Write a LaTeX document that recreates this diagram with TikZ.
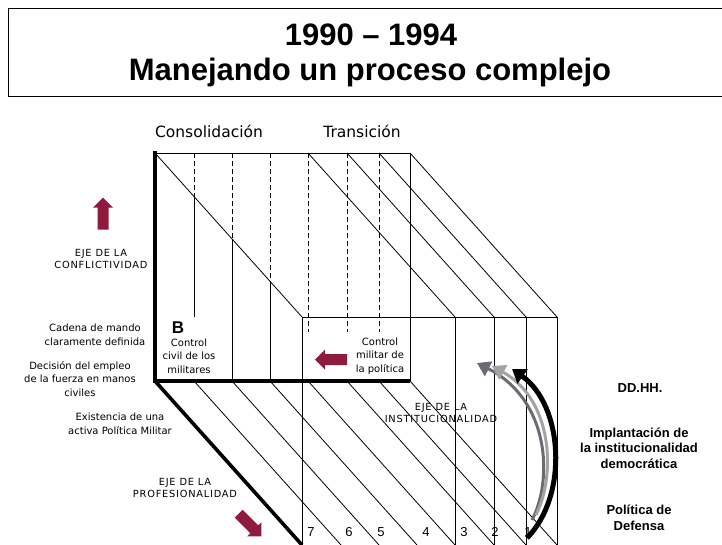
\documentclass[tikz,border=0pt]{standalone}
\usepackage{fontspec}
\setmainfont{Liberation Sans}
\newfontfamily\dejavu{DejaVu Sans}
\newfontfamily\ejes[LetterSpace=8]{DejaVu Sans}
\usetikzlibrary{arrows.meta}
\definecolor{vino}{HTML}{8E1B3E}
\definecolor{gris}{HTML}{6E6A74}
\definecolor{grisc}{HTML}{A3A3A3}
% flecha de bloque: centro x, centro y, angulo
\newcommand{\flecha}[3]{%
	\fill[vino,shift={(#1,#2)},rotate=#3] (-16,-5.5) -- (6,-5.5) -- (6,-10) -- (16,0) -- (6,10) -- (6,5.5) -- (-16,5.5) -- cycle;}

\begin{document}
\begin{tikzpicture}[x=1pt,y=-1pt,
	fino/.style={line width=0.8pt},
	grueso/.style={line width=3.6pt},
	oculta/.style={fino,dash pattern=on 5pt off 3pt},
	txt/.style={font=\dejavu\fontsize{10}{13.5}\selectfont,align=center,inner sep=0pt},
	eje/.style={font=\ejes\fontsize{9.8}{12.5}\selectfont,align=center,inner sep=0pt},
	der/.style={font=\bfseries\fontsize{13}{15.5}\selectfont,align=center,inner sep=0pt}]
	\useasboundingbox (0,0) rectangle (722,544);
	\clip (0,0) rectangle (722,544);
	% titulo
	\draw[fino] (8,8) rectangle (730,96);
	\node[font=\bfseries\fontsize{31}{37}\selectfont,anchor=base] (anios) at (371,45) {1990 -- 1994};
	\node[font=\bfseries\fontsize{31}{37}\selectfont,anchor=base] (titulo) at (370,80) {Manejando un proceso complejo};
	% caras del prisma
	\foreach \x in {155,308,347,379,410}
	\draw[fino] (\x,153) -- ++(147,164);
	\foreach \x in {194,232,270,308,347,379,410}
	\draw[fino] (\x,381) -- ++(147,164);
	\draw[fino] (155,153) -- (410,153) -- (410,381);
	\draw[fino] (302,317) -- (557,317);
	\foreach \x in {302,455,494,526,557}
	\draw[fino] (\x,317) -- (\x,545);
	% verticales de la cara trasera
	\draw[oculta] (194,153) -- (194,197);
	\draw[fino] (194,197) -- (194,317);
	\draw[oculta] (232,153) -- (232,239);
	\draw[fino] (232,239) -- (232,381);
	\draw[oculta] (270,153) -- (270,281);
	\draw[fino] (270,281) -- (270,381);
	\foreach \x in {308,347,379}
	\draw[oculta] (\x,153) -- (\x,332);
	% ejes gruesos
	\draw[grueso] (155,151) -- (155,381) -- (410,381);
	\draw[grueso] (155,381) -- ++(147,164);
	% numeros
	\foreach \n/\x in {7/311,6/349,5/381,4/426,3/464,2/495,1/528}
	\node[font=\fontsize{13}{13}\selectfont,inner sep=0pt] (num\n) at (\x,532) {\n};
	% rotulos
	\node[font=\dejavu\fontsize{15.5}{15.5}\selectfont,inner sep=0pt] (consol) at (209,131) {Consolidación};
	\node[font=\dejavu\fontsize{15.5}{15.5}\selectfont,inner sep=0pt] (trans) at (362,131) {Transición};
	\node[eje] (conflic) at (101,259) {EJE DE LA\\CONFLICTIVIDAD};
	\node[eje] (profes) at (185,488) {EJE DE LA\\PROFESIONALIDAD};
	\node[eje] (instit) at (441,413) {EJE DE LA\\INSTITUCIONALIDAD};
	\node[txt] (cadena) at (95,335) {Cadena de mando\\claramente definida};
	\node[txt] (decision) at (80,379) {Decisión del empleo\\de la fuerza en manos\\civiles};
	\node[txt] (existe) at (120,424) {Existencia de una\\activa Política Militar};
	\node[font=\bfseries\fontsize{17}{17}\selectfont,inner sep=0pt] (letrab) at (178,328) {B};
	\node[txt] (civil) at (189,356) {Control\\civil de los\\militares};
	\node[txt] (militar) at (380,356) {Control\\militar de\\la política};
	\node[der] (ddhh) at (640,388) {DD.HH.};
	\node[der] (implant) at (639,448) {Implantación de\\la institucionalidad\\democrática};
	\node[der] (polit) at (639,518) {Política de\\Defensa};
	% flechas de bloque
	\flecha{103}{213.5}{90}
	\flecha{331}{359.5}{180}
	\flecha{250}{525}{-45}
	% flechas curvas
	\draw[gris,line width=3pt,-{Triangle[length=13pt,width=16pt]}] (532,520) .. controls (553,480) and (550,400) .. (477,363);
	\draw[grisc,line width=3pt,-{Triangle[length=13pt,width=16pt]}] (536,515) .. controls (556,475) and (553,400) .. (492,366);
	\draw[black,line width=5pt,-{Triangle[length=13pt,width=17pt]}] (527,538) .. controls (569,495) and (563,405) .. (512,369);
\end{tikzpicture}
\end{document}
